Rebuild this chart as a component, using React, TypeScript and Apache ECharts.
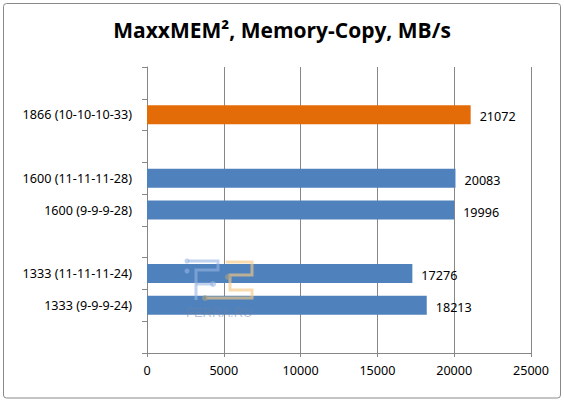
import React, { useEffect, useRef } from "react";
import * as echarts from "echarts";

const titleText = "MaxxMEM\u00B2, Memory-Copy, MB/s";
const categories = [
  "",
  "1866 (10-10-10-33)",
  "",
  "1600 (11-11-11-28)",
  "1600 (9-9-9-28)",
  "",
  "1333 (11-11-11-24)",
  "1333 (9-9-9-24)",
  "",
];
const values: (number | null)[] = [null, 21072, null, 20083, 19996, null, 17276, 18213, null];
const highlighted = ["1866 (10-10-10-33)"];
const axisMin = 0;
const axisMax = 25000;
const axisStep = 5000;

const FONT = "Noto Sans";
const FS = 12.6;

export default function App() {
  const ref = useRef<HTMLDivElement>(null);
  useEffect(() => {
    document.body.style.margin = "0";
    const chart = echarts.init(ref.current!, null, { renderer: "svg" });
    const keyed = categories.map((c, i) => (c === "" ? "\u200B".repeat(i + 1) : c));
    const blue = "rgba(150,180,225,0.6)";
    const orange = "rgba(245,200,130,0.65)";
    const dot = "rgba(170,160,130,0.6)";
    const Z = 100;
    chart.setOption({
      animation: false,
      backgroundColor: "#ffffff",
      title: {
        text: titleText,
        left: "center",
        top: 14,
        textStyle: { fontFamily: "Open Sans", fontWeight: "bold", fontSize: 21, color: "#000" },
      },
      grid: { left: 147, right: 33, top: 67, bottom: 49, containLabel: false },
      xAxis: {
        type: "value",
        min: axisMin,
        max: axisMax,
        interval: axisStep,
        axisLine: { show: true, lineStyle: { color: "#868686" } },
        axisTick: { show: true, length: 4, lineStyle: { color: "#868686" } },
        splitLine: { show: true, lineStyle: { color: "#868686", width: 1 } },
        axisLabel: {
          color: "#000",
          fontFamily: FONT,
          fontSize: FS,
          margin: 11,
          formatter: (v: number) => String(v),
        },
      },
      yAxis: {
        type: "category",
        inverse: true,
        data: keyed,
        axisLine: { show: true, lineStyle: { color: "#868686" } },
        axisTick: { show: true, length: 5, lineStyle: { color: "#868686" } },
        splitLine: { show: false },
        axisLabel: {
          color: "#000",
          fontFamily: FONT,
          fontSize: FS,
          margin: 15,
          formatter: (v: string) => (v.startsWith("\u200B") ? "" : v),
        },
      },
      graphic: [
        {
          type: "rect",
          shape: { x: 3.5, y: 3.5, width: 557, height: 394.5, r: 3 },
          style: { fill: "none", stroke: "#898989", lineWidth: 1 },
          silent: true,
          z: 0,
        },
        {
          type: "polyline",
          shape: { points: [[188, 261], [218, 261], [218, 270], [196, 270], [196, 300]] },
          style: { stroke: blue, lineWidth: 3, fill: "none" },
          silent: true,
          z: Z,
        },
        {
          type: "polyline",
          shape: { points: [[196, 284], [213, 284]] },
          style: { stroke: blue, lineWidth: 3, fill: "none" },
          silent: true,
          z: Z,
        },
        { type: "circle", shape: { cx: 187, cy: 261, r: 2.5 }, style: { fill: blue }, silent: true, z: Z },
        { type: "circle", shape: { cx: 187, cy: 271, r: 2.5 }, style: { fill: blue }, silent: true, z: Z },
        { type: "circle", shape: { cx: 213, cy: 284, r: 3 }, style: { fill: blue }, silent: true, z: Z },
        {
          type: "polyline",
          shape: {
            points: [[226, 262], [252, 262], [252, 275], [230, 275], [230, 290], [252, 290], [252, 298], [206, 298]],
          },
          style: { stroke: orange, lineWidth: 3, fill: "none" },
          silent: true,
          z: Z,
        },
        { type: "circle", shape: { cx: 228, cy: 277, r: 3 }, style: { fill: dot }, silent: true, z: Z },
        { type: "circle", shape: { cx: 205, cy: 298, r: 3 }, style: { fill: dot }, silent: true, z: Z },
        {
          type: "text",
          x: 186,
          y: 306,
          style: {
            text: "FERRA.RU",
            fill: "rgba(110,130,160,0.5)",
            fontFamily: "Liberation Sans",
            fontSize: 13,
          },
          silent: true,
          z: Z,
        },
      ],
      series: [
        {
          type: "bar",
          data: values,
          barWidth: 19,
          itemStyle: {
            color: (p: any) =>
              highlighted.includes(categories[p.dataIndex]) ? "#E36C09" : "#4F81BD",
          },
          label: {
            show: true,
            position: "right",
            distance: 9,
            color: "#000",
            fontFamily: FONT,
            fontSize: FS,
            offset: [0, 2],
          },
        },
      ],
    });
    return () => chart.dispose();
  }, []);
  return <div ref={ref} style={{ width: 564, height: 402, position: "absolute", left: 0, top: 0 }} />;
}
